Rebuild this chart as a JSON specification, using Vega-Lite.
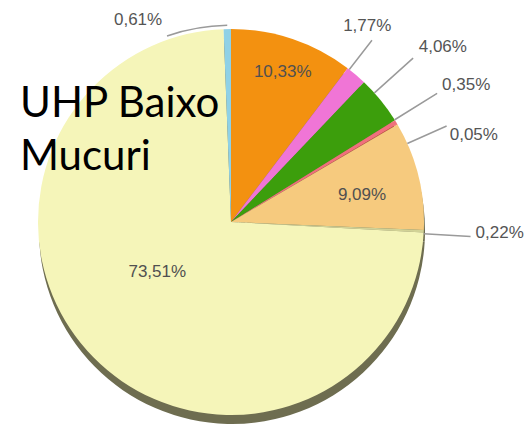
{
  "$schema": "https://vega.github.io/schema/vega-lite/v6.json",
  "width": 386,
  "height": 386,
  "autosize": "none",
  "padding": {"left": 38, "top": 29, "right": 101, "bottom": 12},
  "background": "white",
  "config": {"view": {"stroke": null}},
  "title": {
    "text": ["UHP Baixo", "Mucuri"],
    "anchor": "start",
    "frame": "group",
    "font": "Lato",
    "fontSize": 42,
    "fontWeight": "normal",
    "color": "#000000",
    "lineHeight": 53,
    "baseline": "top",
    "offset": 0,
    "dx": -18,
    "dy": 168
  },
  "data": {
    "values": [
      {"order": 1, "label": "10,33%", "value": 10.33},
      {"order": 2, "label": "1,77%", "value": 1.77},
      {"order": 3, "label": "4,06%", "value": 4.06},
      {"order": 4, "label": "0,35%", "value": 0.35},
      {"order": 5, "label": "0,05%", "value": 0.05},
      {"order": 6, "label": "9,09%", "value": 9.09},
      {"order": 7, "label": "0,22%", "value": 0.22},
      {"order": 8, "label": "73,51%", "value": 73.51},
      {"order": 9, "label": "0,61%", "value": 0.61}
    ]
  },
  "transform": [
    {"stack": "value", "groupby": [], "sort": [{"field": "order", "order": "ascending"}], "as": ["v0", "v1"]},
    {"calculate": "(datum.v0 + datum.v1) / 2", "as": "mid"}
  ],
  "layer": [
    {
      "mark": {"type": "arc", "outerRadius": 193, "xOffset": 1, "yOffset": 9, "color": "#6e6d50"},
      "encoding": {
        "theta": {"field": "v0", "type": "quantitative", "scale": {"domain": [0, 99.99], "range": [0, 6.283185]}},
        "theta2": {"field": "v1"}
      }
    },
    {
      "mark": {"type": "arc", "outerRadius": 193},
      "encoding": {
        "theta": {"field": "v0", "type": "quantitative"},
        "theta2": {"field": "v1"},
        "color": {
          "field": "label",
          "type": "nominal",
          "legend": null,
          "scale": {
            "domain": ["10,33%", "1,77%", "4,06%", "0,35%", "0,05%", "9,09%", "0,22%", "73,51%", "0,61%"],
            "range": ["#f39110", "#f075d6", "#3c9e0c", "#f0707c", "#e8413c", "#f6ca7e", "#d2d296", "#f5f5b9", "#8fd1e6"]
          }
        }
      }
    },
    {
      "transform": [{"filter": "datum.label == '10,33%'"}],
      "mark": {"type": "text", "radius": 159, "dx": 1, "dy": 1, "font": "Liberation Sans", "fontSize": 17, "fill": "#505050", "align": "center", "baseline": "middle"},
      "encoding": {"theta": {"field": "mid", "type": "quantitative", "stack": null}, "text": {"field": "label"}}
    },
    {
      "transform": [{"filter": "datum.label == '9,09%'"}],
      "mark": {"type": "text", "radius": 134, "dx": 1, "dy": 5, "font": "Liberation Sans", "fontSize": 17, "fill": "#505050", "align": "center", "baseline": "middle"},
      "encoding": {"theta": {"field": "mid", "type": "quantitative", "stack": null}, "text": {"field": "label"}}
    },
    {
      "transform": [{"filter": "datum.label == '73,51%'"}],
      "mark": {"type": "text", "radius": 95, "dx": -6, "dy": -17, "font": "Liberation Sans", "fontSize": 17, "fill": "#505050", "align": "center", "baseline": "middle"},
      "encoding": {"theta": {"field": "mid", "type": "quantitative", "stack": null}, "text": {"field": "label"}}
    },
    {
      "transform": [{"filter": "datum.label == '1,77%'"}],
      "layer": [
        {
          "mark": {"type": "arc", "radius": 230, "radius2": 193, "thetaOffset": -0.045, "theta2Offset": -0.045, "filled": false, "stroke": "#9a9a9a", "strokeWidth": 1.5},
          "encoding": {"theta": {"field": "mid", "type": "quantitative"}, "theta2": {"field": "mid"}}
        },
        {
          "mark": {"type": "text", "radius": 235, "dx": -16, "dy": -17, "font": "Liberation Sans", "fontSize": 17, "fill": "#555555", "align": "center", "baseline": "middle"},
          "encoding": {"theta": {"field": "mid", "type": "quantitative", "stack": null}, "text": {"field": "label"}}
        }
      ]
    },
    {
      "transform": [{"filter": "datum.label == '4,06%'"}],
      "layer": [
        {
          "mark": {"type": "arc", "radius": 245, "radius2": 193, "thetaOffset": -0.05, "theta2Offset": -0.05, "filled": false, "stroke": "#9a9a9a", "strokeWidth": 1.5},
          "encoding": {"theta": {"field": "mid", "type": "quantitative"}, "theta2": {"field": "mid"}}
        },
        {
          "mark": {"type": "text", "radius": 255, "dx": 14, "dy": -14, "font": "Liberation Sans", "fontSize": 17, "fill": "#555555", "align": "center", "baseline": "middle"},
          "encoding": {"theta": {"field": "mid", "type": "quantitative", "stack": null}, "text": {"field": "label"}}
        }
      ]
    },
    {
      "transform": [{"filter": "datum.label == '0,35%'"}],
      "layer": [
        {
          "mark": {"type": "arc", "radius": 243, "radius2": 193, "thetaOffset": -0.014, "theta2Offset": -0.014, "filled": false, "stroke": "#9a9a9a", "strokeWidth": 1.5},
          "encoding": {"theta": {"field": "mid", "type": "quantitative"}, "theta2": {"field": "mid"}}
        },
        {
          "mark": {"type": "text", "radius": 262, "dx": 11, "dy": -1, "font": "Liberation Sans", "fontSize": 17, "fill": "#555555", "align": "center", "baseline": "middle"},
          "encoding": {"theta": {"field": "mid", "type": "quantitative", "stack": null}, "text": {"field": "label"}}
        }
      ]
    },
    {
      "transform": [{"filter": "datum.label == '0,05%'"}],
      "layer": [
        {
          "mark": {"type": "arc", "radius": 236, "radius2": 193, "thetaOffset": 0.113, "theta2Offset": 0.113, "filled": false, "stroke": "#9a9a9a", "strokeWidth": 1.5},
          "encoding": {"theta": {"field": "mid", "type": "quantitative"}, "theta2": {"field": "mid"}}
        },
        {
          "mark": {"type": "text", "radius": 262, "dx": 17, "dy": 46, "font": "Liberation Sans", "fontSize": 17, "fill": "#555555", "align": "center", "baseline": "middle"},
          "encoding": {"theta": {"field": "mid", "type": "quantitative", "stack": null}, "text": {"field": "label"}}
        }
      ]
    },
    {
      "transform": [{"filter": "datum.label == '0,22%'"}],
      "layer": [
        {
          "mark": {"type": "arc", "radius": 240, "radius2": 193, "thetaOffset": 0.013, "theta2Offset": 0.013, "filled": false, "stroke": "#9a9a9a", "strokeWidth": 1.5},
          "encoding": {"theta": {"field": "mid", "type": "quantitative"}, "theta2": {"field": "mid"}}
        },
        {
          "mark": {"type": "text", "radius": 269, "dx": 0, "dy": -2, "font": "Liberation Sans", "fontSize": 17, "fill": "#555555", "align": "center", "baseline": "middle"},
          "encoding": {"theta": {"field": "mid", "type": "quantitative", "stack": null}, "text": {"field": "label"}}
        }
      ]
    },
    {
      "transform": [{"filter": "datum.label == '0,61%'"}],
      "layer": [
        {
          "mark": {"type": "arc", "radius": 197.5, "radius2": 196, "thetaOffset": 0, "theta2Offset": -0.312, "color": "#9a9a9a"},
          "encoding": {"theta": {"field": "mid", "type": "quantitative"}, "theta2": {"field": "mid"}}
        },
        {
          "mark": {"type": "text", "radius": 205, "dx": -89, "dy": 3, "font": "Liberation Sans", "fontSize": 17, "fill": "#555555", "align": "center", "baseline": "middle"},
          "encoding": {"theta": {"field": "mid", "type": "quantitative", "stack": null}, "text": {"field": "label"}}
        }
      ]
    }
  ]
}
